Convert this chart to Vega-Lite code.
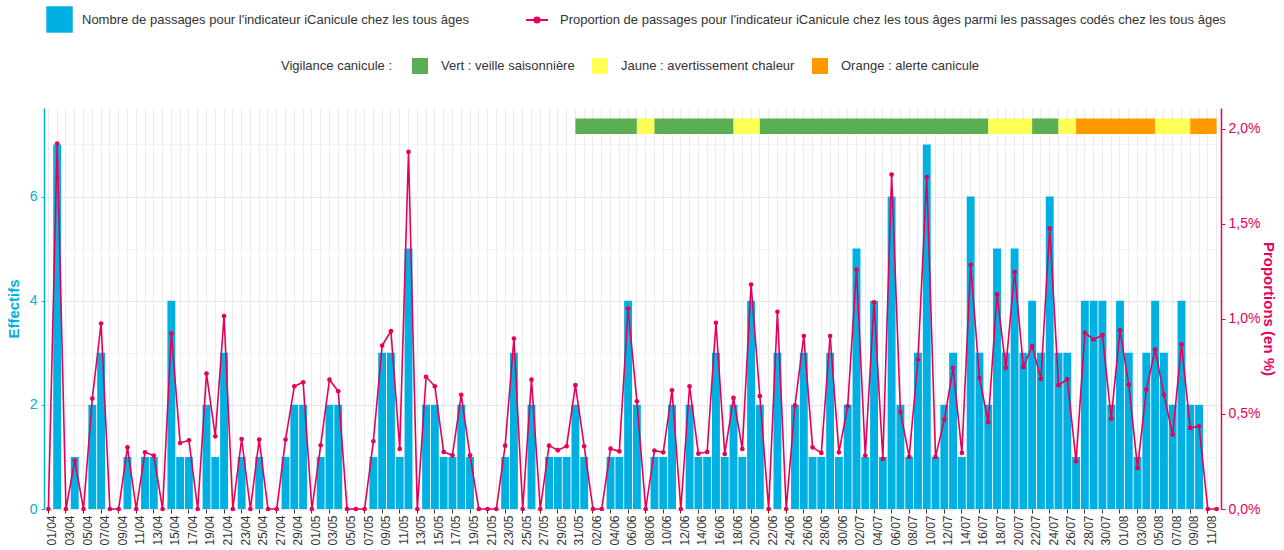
{
  "$schema": "https://vega.github.io/schema/vega-lite/v6.json",
  "width": 1177,
  "height": 401,
  "autosize": {"type": "none"},
  "padding": {"left": 44, "top": 108, "right": 63, "bottom": 41},
  "background": "white",
  "config": {"font": "Liberation Sans", "view": {"stroke": null}},
  "datasets": {
    "jours": [
      {"jour":"01/04","n":0,"p":0},{"jour":"02/04","n":7,"p":1.921},{"jour":"03/04","n":0,"p":0},{"jour":"04/04","n":1,"p":0.254},{"jour":"05/04","n":0,"p":0},{"jour":"06/04","n":2,"p":0.581},{"jour":"07/04","n":3,"p":0.975},{"jour":"08/04","n":0,"p":0},{"jour":"09/04","n":0,"p":0},{"jour":"10/04","n":1,"p":0.324},
      {"jour":"11/04","n":0,"p":0},{"jour":"12/04","n":1,"p":0.298},{"jour":"13/04","n":1,"p":0.281},{"jour":"14/04","n":0,"p":0},{"jour":"15/04","n":4,"p":0.923},{"jour":"16/04","n":1,"p":0.347},{"jour":"17/04","n":1,"p":0.361},{"jour":"18/04","n":0,"p":0},{"jour":"19/04","n":2,"p":0.712},{"jour":"20/04","n":1,"p":0.382},
      {"jour":"21/04","n":3,"p":1.014},{"jour":"22/04","n":0,"p":0},{"jour":"23/04","n":1,"p":0.368},{"jour":"24/04","n":0,"p":0},{"jour":"25/04","n":1,"p":0.365},{"jour":"26/04","n":0,"p":0},{"jour":"27/04","n":0,"p":0},{"jour":"28/04","n":1,"p":0.365},{"jour":"29/04","n":2,"p":0.645},{"jour":"30/04","n":2,"p":0.666},
      {"jour":"01/05","n":0,"p":0},{"jour":"02/05","n":1,"p":0.335},{"jour":"03/05","n":2,"p":0.68},{"jour":"04/05","n":2,"p":0.619},{"jour":"05/05","n":0,"p":0},{"jour":"06/05","n":0,"p":0},{"jour":"07/05","n":0,"p":0},{"jour":"08/05","n":1,"p":0.356},{"jour":"09/05","n":3,"p":0.859},{"jour":"10/05","n":3,"p":0.935},
      {"jour":"11/05","n":1,"p":0.316},{"jour":"12/05","n":5,"p":1.877},{"jour":"13/05","n":0,"p":0},{"jour":"14/05","n":2,"p":0.695},{"jour":"15/05","n":2,"p":0.645},{"jour":"16/05","n":1,"p":0.3},{"jour":"17/05","n":1,"p":0.282},{"jour":"18/05","n":2,"p":0.6},{"jour":"19/05","n":1,"p":0.282},{"jour":"20/05","n":0,"p":0},
      {"jour":"21/05","n":0,"p":0},{"jour":"22/05","n":0,"p":0},{"jour":"23/05","n":1,"p":0.333},{"jour":"24/05","n":3,"p":0.896},{"jour":"25/05","n":0,"p":0},{"jour":"26/05","n":2,"p":0.68},{"jour":"27/05","n":0,"p":0},{"jour":"28/05","n":1,"p":0.333},{"jour":"29/05","n":1,"p":0.309},{"jour":"30/05","n":1,"p":0.33},
      {"jour":"31/05","n":2,"p":0.651},{"jour":"01/06","n":1,"p":0.33},{"jour":"02/06","n":0,"p":0},{"jour":"03/06","n":0,"p":0},{"jour":"04/06","n":1,"p":0.317},{"jour":"05/06","n":1,"p":0.303},{"jour":"06/06","n":4,"p":1.054},{"jour":"07/06","n":2,"p":0.566},{"jour":"08/06","n":0,"p":0},{"jour":"09/06","n":1,"p":0.307},
      {"jour":"10/06","n":1,"p":0.298},{"jour":"11/06","n":2,"p":0.624},{"jour":"12/06","n":0,"p":0},{"jour":"13/06","n":2,"p":0.645},{"jour":"14/06","n":1,"p":0.291},{"jour":"15/06","n":1,"p":0.3},{"jour":"16/06","n":3,"p":0.979},{"jour":"17/06","n":1,"p":0.289},{"jour":"18/06","n":2,"p":0.584},{"jour":"19/06","n":1,"p":0.316},
      {"jour":"20/06","n":4,"p":1.18},{"jour":"21/06","n":2,"p":0.593},{"jour":"22/06","n":0,"p":0},{"jour":"23/06","n":3,"p":1.037},{"jour":"24/06","n":0,"p":0},{"jour":"25/06","n":2,"p":0.545},{"jour":"26/06","n":3,"p":0.909},{"jour":"27/06","n":1,"p":0.324},{"jour":"28/06","n":1,"p":0.295},{"jour":"29/06","n":3,"p":0.909},
      {"jour":"30/06","n":1,"p":0.298},{"jour":"01/07","n":2,"p":0.54},{"jour":"02/07","n":5,"p":1.259},{"jour":"03/07","n":1,"p":0.281},{"jour":"04/07","n":4,"p":1.087},{"jour":"05/07","n":1,"p":0.263},{"jour":"06/07","n":6,"p":1.758},{"jour":"07/07","n":2,"p":0.51},{"jour":"08/07","n":1,"p":0.274},{"jour":"09/07","n":3,"p":0.786},
      {"jour":"10/07","n":7,"p":1.745},{"jour":"11/07","n":1,"p":0.274},{"jour":"12/07","n":2,"p":0.47},{"jour":"13/07","n":3,"p":0.742},{"jour":"14/07","n":1,"p":0.295},{"jour":"15/07","n":6,"p":1.284},{"jour":"16/07","n":3,"p":0.689},{"jour":"17/07","n":2,"p":0.456},{"jour":"18/07","n":5,"p":1.128},{"jour":"19/07","n":3,"p":0.742},
      {"jour":"20/07","n":5,"p":1.245},{"jour":"21/07","n":3,"p":0.747},{"jour":"22/07","n":4,"p":0.856},{"jour":"23/07","n":3,"p":0.684},{"jour":"24/07","n":6,"p":1.475},{"jour":"25/07","n":3,"p":0.651},{"jour":"26/07","n":3,"p":0.681},{"jour":"27/07","n":1,"p":0.251},{"jour":"28/07","n":4,"p":0.926},{"jour":"29/07","n":4,"p":0.891},
      {"jour":"30/07","n":4,"p":0.914},{"jour":"31/07","n":2,"p":0.475},{"jour":"01/08","n":4,"p":0.94},{"jour":"02/08","n":3,"p":0.654},{"jour":"03/08","n":1,"p":0.216},{"jour":"04/08","n":3,"p":0.628},{"jour":"05/08","n":4,"p":0.838},{"jour":"06/08","n":3,"p":0.601},{"jour":"07/08","n":2,"p":0.391},{"jour":"08/08","n":4,"p":0.865},
      {"jour":"09/08","n":2,"p":0.426},{"jour":"10/08","n":2,"p":0.435},{"jour":"11/08","n":0,"p":0},{"jour":"12/08","n":0,"p":0}
    ],
    "vigilance": [
      {"debut":"31/05","fin":"07/06","niveau":"Vert : veille saisonnière"},
      {"debut":"07/06","fin":"09/06","niveau":"Jaune : avertissement chaleur"},
      {"debut":"09/06","fin":"18/06","niveau":"Vert : veille saisonnière"},
      {"debut":"18/06","fin":"21/06","niveau":"Jaune : avertissement chaleur"},
      {"debut":"21/06","fin":"17/07","niveau":"Vert : veille saisonnière"},
      {"debut":"17/07","fin":"22/07","niveau":"Jaune : avertissement chaleur"},
      {"debut":"22/07","fin":"25/07","niveau":"Vert : veille saisonnière"},
      {"debut":"25/07","fin":"27/07","niveau":"Jaune : avertissement chaleur"},
      {"debut":"27/07","fin":"05/08","niveau":"Orange : alerte canicule"},
      {"debut":"05/08","fin":"09/08","niveau":"Jaune : avertissement chaleur"},
      {"debut":"09/08","fin":"12/08","niveau":"Orange : alerte canicule"}
    ]
  },
  "layer": [
    {
      "layer": [
        {
          "data": {"name": "jours"},
          "mark": {"type": "bar"},
          "encoding": {
            "x": {
              "field": "jour", "type": "ordinal", "title": null,
              "scale": {
                "domain": ["01/04","02/04","03/04","04/04","05/04","06/04","07/04","08/04","09/04","10/04","11/04","12/04","13/04","14/04","15/04","16/04","17/04","18/04","19/04","20/04","21/04","22/04","23/04","24/04","25/04","26/04","27/04","28/04","29/04","30/04",
                  "01/05","02/05","03/05","04/05","05/05","06/05","07/05","08/05","09/05","10/05","11/05","12/05","13/05","14/05","15/05","16/05","17/05","18/05","19/05","20/05","21/05","22/05","23/05","24/05","25/05","26/05","27/05","28/05","29/05","30/05","31/05",
                  "01/06","02/06","03/06","04/06","05/06","06/06","07/06","08/06","09/06","10/06","11/06","12/06","13/06","14/06","15/06","16/06","17/06","18/06","19/06","20/06","21/06","22/06","23/06","24/06","25/06","26/06","27/06","28/06","29/06","30/06",
                  "01/07","02/07","03/07","04/07","05/07","06/07","07/07","08/07","09/07","10/07","11/07","12/07","13/07","14/07","15/07","16/07","17/07","18/07","19/07","20/07","21/07","22/07","23/07","24/07","25/07","26/07","27/07","28/07","29/07","30/07","31/07",
                  "01/08","02/08","03/08","04/08","05/08","06/08","07/08","08/08","09/08","10/08","11/08","12/08"],
                "paddingInner": 0.1,
                "paddingOuter": 0.05
              },
              "axis": {
                "title": null,
                "labelAngle": -90,
                "labelFontSize": 12,
                "labelColor": "#333333",
                "labelOffset": 4,
                "labelPadding": 2,
                "labelOverlap": false,
                "labelBound": false,
                "labelExpr": "(indexof(['06','07'], slice(datum.value,3,5)) >= 0 ? toNumber(slice(datum.value,0,2)) % 2 === 0 : toNumber(slice(datum.value,0,2)) % 2 === 1) ? datum.value : ''",
                "tickSize": 4,
                "tickColor": {"condition": {"test": "(indexof(['06','07'], slice(datum.value,3,5)) >= 0 ? toNumber(slice(datum.value,0,2)) % 2 === 1 : toNumber(slice(datum.value,0,2)) % 2 === 0)", "value": "transparent"}, "value": "#333333"},
                "domain": false,
                "grid": true,
                "gridColor": "#EBEBEB",
                "gridWidth": 1
              }
            },
            "y": {
              "field": "n", "type": "quantitative",
              "scale": {"domain": [0, 7.7], "nice": false, "zero": true},
              "axis": {
                "title": "Effectifs",
                "titleColor": "#00B0E3",
                "titleFontSize": 15,
                "titleFontWeight": "bold",
                "titlePadding": 8,
                "values": [0,1,2,3,4,5,6,7],
                "labelExpr": "datum.value % 2 === 0 ? datum.value : ''",
                "labelColor": "#00B0E3",
                "labelFontSize": 14,
                "labelPadding": 4,
                "domainColor": "#00B0E3",
                "domainWidth": 1.5,
                "tickSize": 3,
                "tickColor": {"condition": {"test": "datum.value % 2 === 1", "value": "transparent"}, "value": "#00B0E3"},
                "grid": true,
                "gridColor": {"condition": {"test": "datum.value % 2 === 1", "value": "#F3F3F3"}, "value": "#E6E6E6"},
                "gridWidth": 1
              }
            },
            "color": {
              "datum": "Nombre de passages pour l'indicateur iCanicule chez les tous âges",
              "scale": {"domain": ["Nombre de passages pour l'indicateur iCanicule chez les tous âges"], "range": ["#00B0E3"]},
              "legend": {
                "orient": "none", "legendX": 2, "legendY": -102,
                "title": null,
                "symbolType": "square", "symbolSize": 700, "symbolStrokeWidth": 0,
                "labelFontSize": 13, "labelColor": "#333333", "labelOffset": 9, "labelLimit": 1000
              }
            }
          }
        },
        {
          "data": {"name": "vigilance"},
          "mark": {"type": "rect"},
          "encoding": {
            "x": {"field": "debut", "type": "ordinal", "bandPosition": 0.5, "title": null},
            "x2": {"field": "fin", "bandPosition": 0.5},
            "y": {"datum": 7.2},
            "y2": {"datum": 7.5},
            "fill": {
              "field": "niveau", "type": "nominal",
              "scale": {"domain": ["Vert : veille saisonnière", "Jaune : avertissement chaleur", "Orange : alerte canicule"], "range": ["#5BAE52", "#FFFF55", "#FF9A00"]},
              "legend": {
                "orient": "none", "legendX": 237, "legendY": -50,
                "title": "Vigilance canicule :", "titleOrient": "left",
                "titleFontSize": 13, "titleFontWeight": "normal", "titleColor": "#333333", "titlePadding": 19,
                "direction": "horizontal",
                "symbolType": "square", "symbolSize": 256, "symbolStrokeWidth": 0,
                "labelFontSize": 13, "labelColor": "#333333", "labelOffset": 13, "labelLimit": 400,
                "columnPadding": 17
              }
            }
          }
        }
      ]
    },
    {
      "layer": [
        {
          "data": {"name": "jours"},
          "mark": {"type": "line", "strokeWidth": 1.6},
          "encoding": {
            "x": {"field": "jour", "type": "ordinal", "title": null},
            "y": {
              "field": "p", "type": "quantitative",
              "scale": {"domain": [0, 2.108], "nice": false, "zero": true},
              "axis": {
                "orient": "right",
                "title": "Proportions (en %)",
                "titleAngle": 90,
                "titleColor": "#E5005A",
                "titleFontSize": 15,
                "titleFontWeight": "bold",
                "titlePadding": 1,
                "values": [0, 0.5, 1, 1.5, 2],
                "labelExpr": "replace(format(datum.value, '.1f'), '.', ',') + '%'",
                "labelColor": "#E5005A",
                "labelFontSize": 14,
                "labelPadding": 3,
                "domainColor": "#E5005A",
                "domainWidth": 1.5,
                "tickColor": "#E5005A",
                "tickSize": 4,
                "grid": false
              }
            },
            "stroke": {
              "datum": "Proportion de passages pour l'indicateur iCanicule chez les tous âges parmi les passages codés chez les tous âges",
              "scale": {"domain": ["Proportion de passages pour l'indicateur iCanicule chez les tous âges parmi les passages codés chez les tous âges"], "range": ["#E5005A"]},
              "legend": {
                "orient": "none", "legendX": 481, "legendY": -100,
                "title": null,
                "symbolType": "M-1,0H1M0.24,0A0.24,0.24,0,1,1,-0.24,0A0.24,0.24,0,1,1,0.24,0Z",
                "symbolSize": 484, "symbolStrokeWidth": 1.8, "symbolFillColor": "#E5005A",
                "labelFontSize": 13, "labelColor": "#333333", "labelOffset": 11, "labelLimit": 1000
              }
            }
          }
        },
        {
          "data": {"name": "jours"},
          "mark": {"type": "circle", "color": "#E5005A", "size": 22, "opacity": 1},
          "encoding": {
            "x": {"field": "jour", "type": "ordinal", "title": null},
            "y": {"field": "p", "type": "quantitative"}
          }
        }
      ]
    }
  ],
  "resolve": {"scale": {"y": "independent"}}
}
